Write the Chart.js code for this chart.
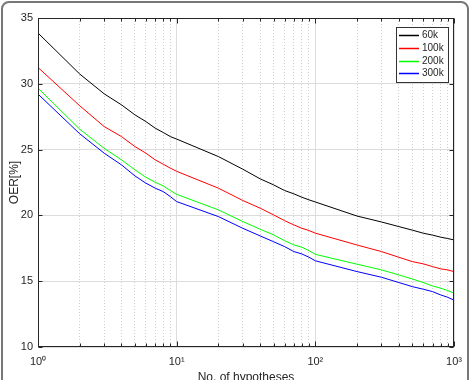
<!DOCTYPE html>
<html lang="en">
<head>
    <meta charset="UTF-8">
    <title>OER vs. No. of hypotheses</title>
    <script src="https://cdn.jsdelivr.net/npm/chart.js"></script>
    <style>
        body { margin: 0; background: #fff; }
    </style>
</head>
<body>
    <canvas id="oerChart" width="470" height="380"></canvas>
    <script>
        // Number of hypotheses (x, log scale)
        const hypotheses = [1, 2, 3, 4, 5, 6, 7, 8, 9, 10, 20, 30, 40, 50, 60, 70, 80, 90,
                            100, 200, 300, 400, 500, 600, 700, 800, 900, 1000];

        // OER [%] per training size
        const oer60k  = [33.86, 30.74, 29.24, 28.40, 27.64, 27.13, 26.63, 26.30, 25.99, 25.80,
                         24.47, 23.51, 22.78, 22.32, 21.89, 21.64, 21.38, 21.18,
                         21.02, 19.95, 19.50, 19.15, 18.88, 18.65, 18.50, 18.35, 18.24, 18.14];
        const oer100k = [31.24, 28.33, 26.75, 25.99, 25.23, 24.73, 24.22, 23.89, 23.59, 23.35,
                         22.07, 21.13, 20.55, 20.04, 19.60, 19.28, 19.02, 18.85,
                         18.65, 17.75, 17.25, 16.82, 16.49, 16.32, 16.11, 15.94, 15.86, 15.73];
        const oer200k = [29.67, 26.55, 25.10, 24.22, 23.46, 22.90, 22.52, 22.24, 21.89, 21.60,
                         20.42, 19.53, 18.95, 18.52, 18.08, 17.76, 17.58, 17.32,
                         17.04, 16.29, 15.86, 15.48, 15.17, 14.90, 14.64, 14.47, 14.29, 14.09];
        const oer300k = [29.22, 26.20, 24.73, 23.84, 23.00, 22.45, 22.07, 21.81, 21.43, 21.05,
                         19.91, 19.02, 18.44, 18.00, 17.63, 17.25, 17.07, 16.82,
                         16.55, 15.73, 15.30, 14.90, 14.59, 14.39, 14.21, 13.96, 13.78, 13.56];

        const seriesLabels = ['60k', '100k', '200k', '300k'];
        const seriesColors = ['#000000', '#ff0000', '#00ff00', '#0000ff'];

        // axis ticks
        const xGridValues = [1, 2, 3, 4, 5, 6, 7, 8, 9, 10, 20, 30, 40, 50, 60, 70, 80, 90,
                             100, 200, 300, 400, 500, 600, 700, 800, 900, 1000];
        const xDecades = [1, 10, 100, 1000];
        const xTickLabels = ['10\u2070', '10\u00b9', '10\u00b2', '10\u00b3'];
        const yTicks = [10, 15, 20, 25, 30, 35];

        const FONT = "'Liberation Sans', Arial, Helvetica, sans-serif";
        const TEXT = '#262626';

        const isDecade = v => xDecades.indexOf(v) !== -1;

        const allSeries = [oer60k, oer100k, oer200k, oer300k];
        const datasets = allSeries.map((vals, i) => ({
            label: seriesLabels[i],
            data: hypotheses.map((h, j) => ({ x: h, y: vals[j] })),
            borderColor: seriesColors[i],
            backgroundColor: seriesColors[i],
            borderWidth: 1,
            pointRadius: 0,
            fill: false,
            tension: 0
        }));

        // white background, axes box, inward ticks, boxed legend, outer frame
        const figureDecor = {
            id: 'figureDecor',
            beforeDraw(chart) {
                const c = chart.ctx;
                c.save();
                c.fillStyle = '#fff';
                c.fillRect(0, 0, chart.width, chart.height);
                c.restore();
            },
            afterDraw(chart) {
                const c = chart.ctx;
                const a = chart.chartArea;
                const xs = chart.scales.x, ys = chart.scales.y;
                const L = Math.round(a.left) + 0.5, R = Math.round(a.right) - 0.5;
                const T = Math.round(a.top) + 0.5, B = Math.round(a.bottom) - 0.5;
                c.save();
                c.strokeStyle = TEXT;
                c.lineWidth = 1;
                c.beginPath();
                // ticks pointing inward
                yTicks.forEach(v => {
                    const y = Math.round(ys.getPixelForValue(v)) + 0.5;
                    c.moveTo(L, y); c.lineTo(L + 4, y);
                    c.moveTo(R, y); c.lineTo(R - 4, y);
                });
                xGridValues.forEach(v => {
                    const x = Math.round(xs.getPixelForValue(v)) + 0.5;
                    const len = isDecade(v) ? 5 : 3;
                    c.moveTo(x, B); c.lineTo(x, B - len);
                    c.moveTo(x, T); c.lineTo(x, T + len);
                });
                c.stroke();
                c.strokeRect(L, T, R - L, B - T);

                // legend
                const lx = 396.5, ly = 27.5, lw = 52, lh = 55;
                c.fillStyle = '#fff';
                c.fillRect(lx, ly, lw, lh);
                c.strokeStyle = '#333';
                c.strokeRect(lx, ly, lw, lh);
                c.font = '10px ' + FONT;
                c.textBaseline = 'middle';
                c.textAlign = 'left';
                chart.data.datasets.forEach((ds, i) => {
                    const y = Math.round(35 + i * 12.8) + 0.5;
                    c.strokeStyle = ds.borderColor;
                    c.lineWidth = 1.5;
                    c.beginPath();
                    c.moveTo(399, y); c.lineTo(419, y);
                    c.stroke();
                    c.fillStyle = TEXT;
                    c.fillText(ds.label, 422, y);
                });

                // outer figure frame
                c.strokeStyle = '#777';
                c.lineWidth = 2;
                c.beginPath();
                c.roundRect(2, 2, 466, 420, 7);
                c.stroke();
                c.restore();
            }
        };

        new Chart(document.getElementById('oerChart'), {
            type: 'line',
            data: { datasets: datasets },
            plugins: [figureDecor],
            options: {
                responsive: false,
                animation: false,
                layout: { padding: { top: 18, right: 16, left: 0, bottom: 0 } },
                plugins: {
                    legend: { display: false },
                    tooltip: { enabled: false }
                },
                scales: {
                    x: {
                        type: 'logarithmic',
                        min: 1,
                        max: 1000,
                        afterBuildTicks: scale => {
                            scale.ticks = xGridValues.map(v => ({ value: v, major: isDecade(v) }));
                        },
                        afterFit: scale => { scale.height = 33; },
                        ticks: {
                            autoSkip: false,
                            maxRotation: 0,
                            padding: 8,
                            color: TEXT,
                            font: { family: FONT, size: 11 },
                            callback: value => {
                                const k = xDecades.indexOf(value);
                                return k === -1 ? '' : xTickLabels[k];
                            }
                        },
                        grid: {
                            drawTicks: false,
                            color: ctx => (ctx.tick && isDecade(ctx.tick.value)) ? '#dcdcdc' : '#cfcfcf',
                            borderDash: ctx => (ctx.tick && !isDecade(ctx.tick.value)) ? [1, 2] : []
                        },
                        border: {
                            display: false,
                            dash: ctx => (ctx.tick && !isDecade(ctx.tick.value)) ? [1, 2] : []
                        },
                        title: {
                            display: true,
                            text: 'No. of hypotheses',
                            color: TEXT,
                            font: { family: FONT, size: 12 },
                            padding: { top: 0, bottom: -5 }
                        }
                    },
                    y: {
                        min: 10,
                        max: 35,
                        afterBuildTicks: scale => {
                            scale.ticks = yTicks.map(v => ({ value: v }));
                        },
                        afterFit: scale => { scale.width = 38; },
                        ticks: {
                            padding: 5,
                            color: TEXT,
                            font: { family: FONT, size: 11 }
                        },
                        grid: {
                            drawTicks: false,
                            color: '#dcdcdc'
                        },
                        border: { display: false },
                        title: {
                            display: true,
                            text: 'OER[%]',
                            color: TEXT,
                            font: { family: FONT, size: 12 },
                            padding: { top: 7, bottom: 0 }
                        }
                    }
                }
            }
        });
    </script>
</body>
</html>
